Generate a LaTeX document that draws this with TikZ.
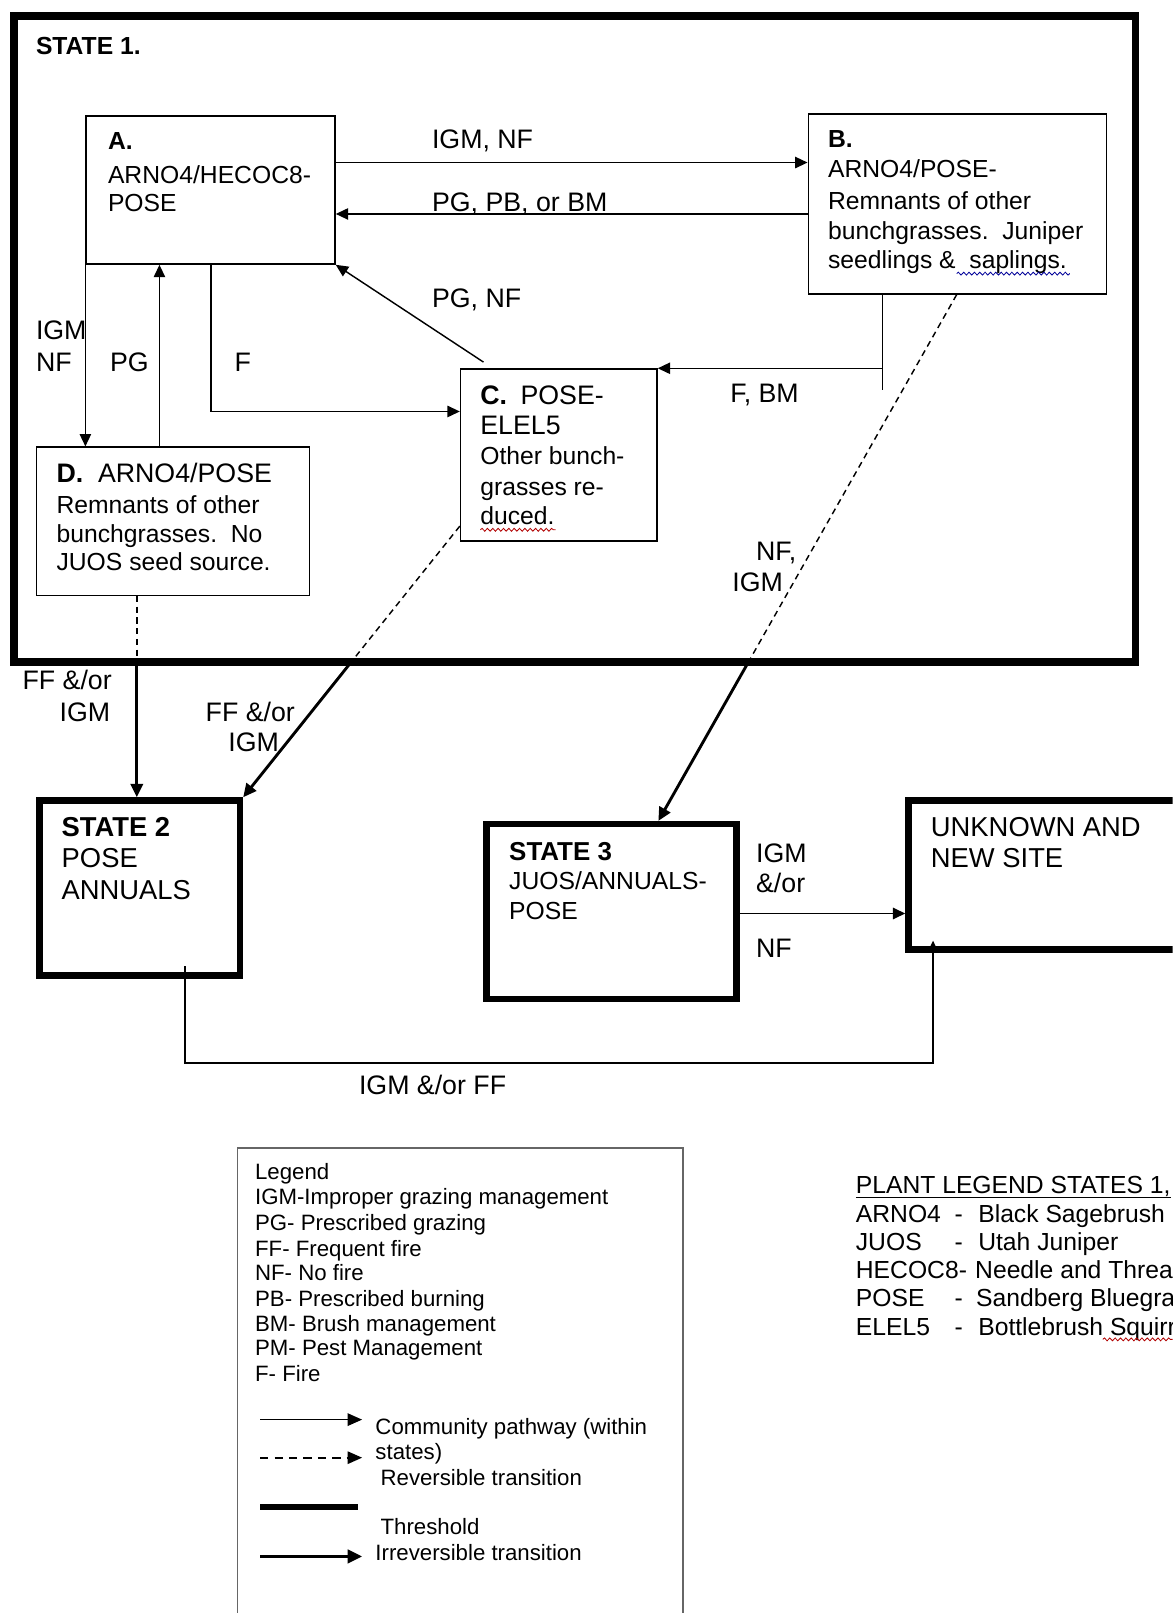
\documentclass[tikz,border=0pt]{standalone}
\usepackage{fontspec}
\setmainfont{Liberation Sans}
\usetikzlibrary{arrows.meta,decorations.pathmorphing,calc}
\begin{document}
\begin{tikzpicture}[x=0.5pt,y=-0.5pt,
  t/.style={anchor=base west,inner sep=0pt,outer sep=0pt,font=\fontsize{12}{14}\selectfont},
  tb/.style={t,font=\fontsize{12}{14}\selectfont\bfseries},
  lb/.style={t,font=\fontsize{13}{15}\selectfont},
  st/.style={t,font=\fontsize{13.3}{15}\selectfont},
  stb/.style={t,font=\fontsize{13.3}{15}\selectfont\bfseries},
  lg/.style={t,font=\fontsize{10.8}{12}\selectfont},
  sbox/.style={draw,line width=0.7pt,inner sep=0pt,anchor=north west},
  stbox/.style={draw,line width=3.2pt,inner sep=0pt,anchor=north west},
  arr/.style={line width=0.7pt,-{Triangle[length=6pt,width=5.5pt]}},
  thk/.style={line width=1.4pt,-{Triangle[length=6.5pt,width=6pt]}},
  dsh/.style={line width=0.7pt,dash pattern=on 3pt off 2.2pt},
  wavyb/.style={blue!60!black,line width=0.4pt,decorate,decoration={snake,amplitude=0.7pt,segment length=2.6pt}},
  wavyr/.style={red!70!black,line width=0.4pt,decorate,decoration={snake,amplitude=0.7pt,segment length=2.6pt}},
]
\useasboundingbox (0,0) rectangle (1140,1568);
\fill[white] (0,0) rectangle (1140,1568);
\clip (0,0) rectangle (1140,1568);

% ---------- boxes ----------
\node[stbox,line width=3.6pt,minimum width=545pt,minimum height=314pt] (S1) at (10,12) {};
\node[sbox,minimum width=121pt,minimum height=72pt] (A) at (83,112) {};
\node[sbox,minimum width=145pt,minimum height=87.5pt] (B) at (785,110) {};
\node[sbox,minimum width=95.5pt,minimum height=83.5pt] (C) at (447,358) {};
\node[sbox,minimum width=132.5pt,minimum height=72pt] (D) at (35,434) {};
\node[stbox,minimum width=97.5pt,minimum height=85pt] (S2) at (35,775) {};
\node[stbox,minimum width=121.5pt,minimum height=85pt] (S3) at (470,798) {};
\node[stbox,minimum width=150pt,minimum height=72.5pt] (U) at (880,775) {};
\node[sbox,draw=black!60,line width=0.8pt,minimum width=216.5pt,minimum height=260pt] (Leg) at (230,1115) {};

% ---------- texts in State 1 ----------
\node[tb] (s1t) at (35,53) {STATE 1.};
\node[tb] (at1) at (105,145) {A.};
\node[t] (at2) at (105,178) {ARNO4/HECOC8-};
\node[t] (at3) at (105,206) {POSE};
\node[tb] (bt1) at (805,143) {B.};
\node[t] (bt2) at (805,173) {ARNO4/POSE-};
\node[t] (bt3) at (805,204) {Remnants of other};
\node[t] (bt4) at (805,233) {bunchgrasses.\ \ Juniper};
\node[t] (bt5) at (805,261) {seedlings \&\ \ saplings.};
\node[lb] (ct1) at (467,393) {\textbf{C.}\hspace{0.5em}POSE-};
\node[lb] (ct2) at (467,422) {ELEL5};
\node[t] (ct3) at (467,452) {Other bunch-};
\node[t] (ct4) at (467,482) {grasses re-};
\node[t] (ct5) at (467,510) {duced.};
\node[lb] (dt1) at (55,469) {\textbf{D.}\hspace{0.55em}ARNO4/POSE};
\node[t] (dt2) at (55,499) {Remnants of other};
\node[t] (dt3) at (55,527) {bunchgrasses.\ \ No};
\node[t] (dt4) at (55,555) {JUOS seed source.};
\draw[wavyb] (930,266) -- (1040,266);
\draw[wavyr] (467,515) -- (540,515);

% ---------- connectors in State 1 ----------
\path (A.north east) ++(0,46) coordinate (ab0);
\draw[arr] (ab0) -- (ab0 -| B.west);
\path (B.north west) ++(0,98) coordinate (ba0);
\draw[arr] (ba0) -- (ba0 -| A.east);
\path (C.north west) ++(23,-6) coordinate (ca0);
\draw[arr] (ca0) -- (A.south east);
\path (B.south west) ++(73,0) coordinate (bc0);
\path (B.south west) ++(73,93) coordinate (bc1);
\draw[line width=0.7pt] (bc0) -- (bc1);
\draw[arr] (bc0 |- C.north) -- (C.north east);
\path (A.south west) ++(122,0) coordinate (ac0);
\path (C.north west) ++(0,42) coordinate (ac1);
\draw[arr] (ac0) |- (ac1);
\draw[arr] (A.south west) -- (A.south west |- D.north);
\path (D.north west) ++(120,0) coordinate (da0);
\draw[arr] (da0) -- (da0 |- A.south);

\node[lb] (l1) at (420,144) {IGM, NF};
\node[lb] (l2) at (420,206) {PG, PB, or BM};
\node[lb] (l3) at (420,299) {PG, NF};
\node[lb] (l4) at (35,330) {IGM};
\node[lb] (l5) at (35,361) {NF};
\node[lb] (l6) at (107,361) {PG};
\node[lb] (l7) at (228,361) {F};
\node[lb] (l8) at (710,391) {F, BM};
\node[lb] (l9) at (735,545) {NF,};
\node[lb] (l10) at (712,575) {IGM};

% ---------- transitions out of State 1 ----------
\path (D.south west) ++(98,0) coordinate (ds0);
\coordinate (ds1) at (ds0 |- S1.south);
\draw[dsh] (ds0) -- (ds1);
\draw[thk] (ds1) -- (ds1 |- S2.north);
\path (C.south west) ++(0,-15) coordinate (cs0);
\coordinate (cs1) at ($(cs0)!0.49!(S2.north east)$);
\draw[dsh] (cs0) -- (cs1);
\draw[thk] (cs1) -- (S2.north east);
\path (B.south west) ++(145,0) coordinate (bs0);
\path (S3.north west) ++(170,0) coordinate (bs2);
\coordinate (bs1) at ($(bs0)!0.692!(bs2)$);
\draw[dsh] (bs0) -- (bs1);
\draw[thk] (bs1) -- (bs2);

\node[lb] (l11) at (22,670) {FF \&/or};
\node[lb] (l12) at (58,701) {IGM};
\node[lb] (l13) at (200,701) {FF \&/or};
\node[lb] (l14) at (222,731) {IGM};

% ---------- states 2, 3, unknown ----------
\node[stb] (s2t1) at (60,813) {STATE 2};
\node[st] (s2t2) at (60,843) {POSE};
\node[st] (s2t3) at (60,874) {ANNUALS};
\node[stb,font=\fontsize{12.6}{15}\selectfont\bfseries] (s3t1) at (495,836) {STATE 3};
\node[t] (s3t2) at (495,865) {JUOS/ANNUALS-};
\node[t] (s3t3) at (495,894) {POSE};
\node[st] (ut1) at (905,813) {UNKNOWN AND};
\node[st] (ut2) at (905,843) {NEW SITE};

\path (S3.north east) ++(0,90) coordinate (su0);
\draw[arr,line width=0.9pt] (su0) -- (su0 -| U.west);
\node[lb] (l15) at (735,838) {IGM};
\node[lb] (l16) at (735,868) {\&/or};
\node[lb] (l17) at (735,931) {NF};

\path (S2.south west) ++(145,-12) coordinate (su1);
\coordinate (su2) at ($(su1)+(0,94)$);
\path (U.south west) ++(27,-12) coordinate (su3);
\draw[arr,line width=0.9pt] (su1) -- (su2) -| (su3);
\node[lb] (l18) at (349,1064) {IGM \&/or FF};

% ---------- legend ----------
\node[lg] (g1) at (248,1147) {Legend};
\node[lg] (g2) at (248,1171) {IGM-Improper grazing management};
\node[lg] (g3) at (248,1196) {PG- Prescribed grazing};
\node[lg] (g4) at (248,1221) {FF- Frequent fire};
\node[lg] (g5) at (248,1245) {NF- No fire};
\node[lg] (g6) at (248,1270) {PB- Prescribed burning};
\node[lg] (g7) at (248,1294) {BM- Brush management};
\node[lg] (g8) at (248,1318) {PM- Pest Management};
\node[lg] (g9) at (248,1343) {F- Fire};
\coordinate (k1a) at (253,1380); \coordinate (k1b) at (352,1380);
\draw[line width=0.8pt,-{Triangle[length=7pt,width=6pt]}] (k1a) -- (k1b);
\coordinate (k2a) at (253,1417); \coordinate (k2b) at (352,1417);
\draw[line width=0.8pt,dash pattern=on 4pt off 3pt,-{Triangle[length=7pt,width=6pt]}] (k2a) -- (k2b);
\coordinate (k3a) at (253,1465); \coordinate (k3b) at (348,1465);
\draw[line width=2.6pt] (k3a) -- (k3b);
\coordinate (k4a) at (253,1513); \coordinate (k4b) at (352,1513);
\draw[line width=1.5pt,-{Triangle[length=7pt,width=6.5pt]}] (k4a) -- (k4b);
\node[lg] (g10) at (365,1394) {Community pathway (within};
\node[lg] (g11) at (365,1419) {states)};
\node[lg] (g12) at (370,1444) {Reversible transition};
\node[lg] (g13) at (370,1492) {Threshold};
\node[lg] (g14) at (365,1517) {Irreversible transition};

% ---------- plant legend ----------
\node[t] (p0) at (832,1160) {PLANT LEGEND STATES 1,};
\draw[line width=0.6pt] (p0.base west) ++(0,4) -- ++(306,0);
\node[t] (p1a) at (832,1188) {ARNO4};
\node[t] (p1b) at (928,1188) {-};
\node[t] (p1c) at (951,1188) {Black Sagebrush};
\node[t] (p2a) at (832,1216) {JUOS};
\node[t] (p2b) at (928,1216) {-};
\node[t] (p2c) at (951,1216) {Utah Juniper};
\node[t] (p3a) at (832,1243) {HECOC8-};
\node[t] (p3c) at (948,1243) {Needle and Threa};
\node[t] (p4a) at (832,1270) {POSE};
\node[t] (p4b) at (928,1270) {-};
\node[t] (p4c) at (949,1270) {Sandberg Bluegra};
\node[t] (p5a) at (832,1298) {ELEL5};
\node[t] (p5b) at (928,1298) {-};
\node[t] (p5c) at (951,1298) {Bottlebrush Squirr};
\draw[wavyr] (1072,1302) -- (1140,1302);
\end{tikzpicture}
\end{document}
